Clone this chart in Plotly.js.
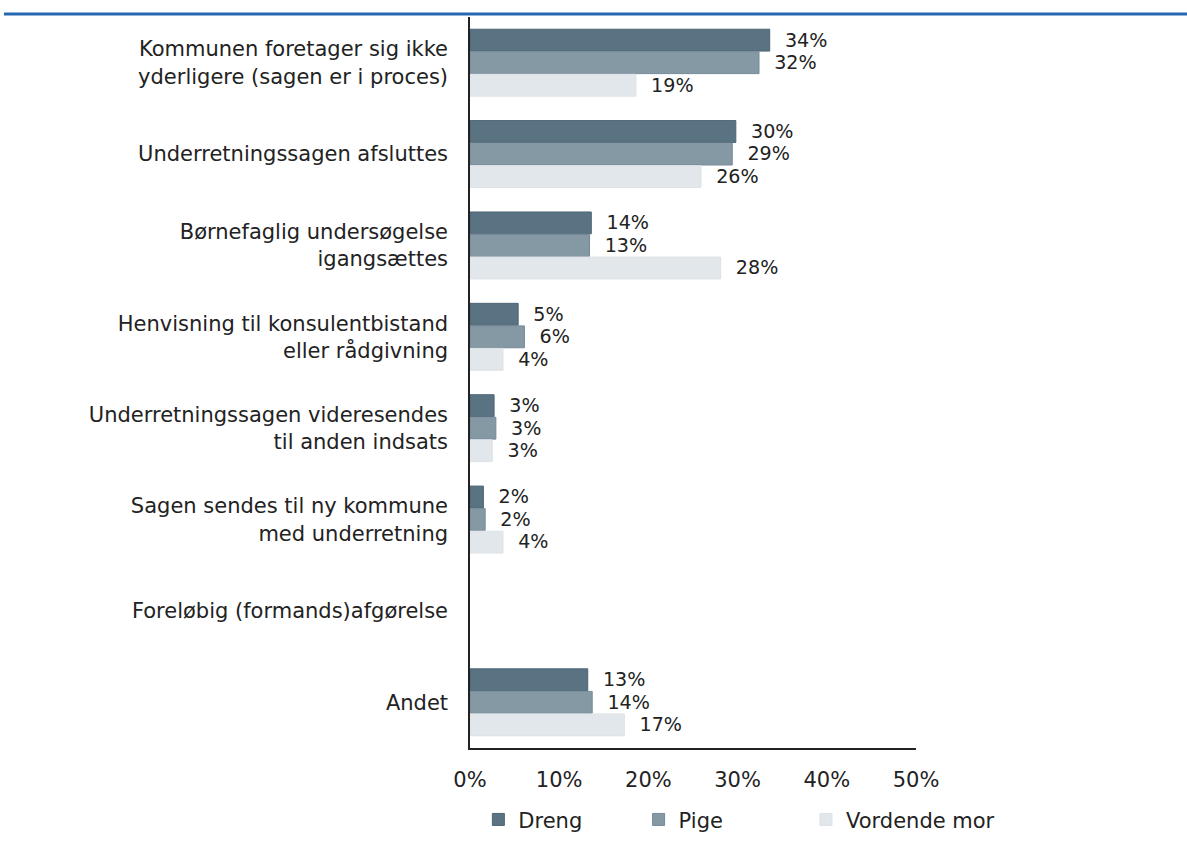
<!DOCTYPE html>
<html>
<head>
<meta charset="utf-8">
<script src="https://cdn.plot.ly/plotly-3.0.1.min.js"></script>
<style>
  html, body { margin: 0; padding: 0; background: #fff; }
  #plot { width: 1187px; height: 846px; }
</style>
</head>
<body>
<div id="plot"></div>
<script>
// Categories, top to bottom
var categories = [
    'Kommunen foretager sig ikke<br>yderligere (sagen er i proces)',
    'Underretningssagen afsluttes',
    'Børnefaglig undersøgelse<br>igangsættes',
    'Henvisning til konsulentbistand<br>eller rådgivning',
    'Underretningssagen videresendes<br>til anden indsats',
    'Sagen sendes til ny kommune<br>med underretning',
    'Foreløbig (formands)afgørelse',
    'Andet'
];

// Share in percent
var dreng   = [33.6, 29.8, 13.6, 5.4, 2.7, 1.5, null, 13.2];
var pige    = [32.4, 29.4, 13.4, 6.1, 2.9, 1.7, null, 13.7];
var vordende = [18.6, 25.9, 28.1, 3.7, 2.5, 3.7, null, 17.3];

var seriesNames = ['Dreng', 'Pige', 'Vordende mor'];
var seriesColors = ['#5a7383', '#8499a4', '#e2e7eb'];
var seriesLines = ['#4d6473', '#75899a', '#dde2e6'];
// one small legend per series so each entry sits where the reference has it
var legendIds = ['legend', 'legend2', 'legend3'];
var legendX = [0.403, 0.538, 0.679];

var font = 'DejaVu Sans, Verdana, sans-serif';
var fontSize = 21;

var allValues = [dreng, pige, vordende];
var traces = allValues.map(function (vals, i) {
    return {
        type: 'bar',
        orientation: 'h',
        name: seriesNames[i],
        legend: legendIds[i],
        y: categories,
        x: vals,
        marker: { color: seriesColors[i], line: { color: seriesLines[i], width: 1 } },
        texttemplate: '\u00a0\u00a0%{x:.0f}%',
        textposition: 'outside',
        cliponaxis: false,
        textfont: { family: font, size: fontSize, color: '#222' },
        hoverinfo: 'x+name'
    };
});

var layout = {
    width: 1187,
    height: 846,
    margin: { l: 470, r: 271, t: 17, b: 98, autoexpand: false },
    paper_bgcolor: '#fff',
    plot_bgcolor: '#fff',
    font: { family: font, size: fontSize, color: '#222' },
    barmode: 'group',
    bargap: 0.26,
    bargroupgap: 0.03,
    showlegend: true,
    xaxis: {
        range: [0, 50],
        dtick: 10,
        ticksuffix: '%',
        showgrid: false,
        zeroline: false,
        showline: true,
        linecolor: '#222',
        linewidth: 1.5,
        ticks: '',
        ticklabelstandoff: 12,
        fixedrange: true
    },
    yaxis: {
        autorange: 'reversed',
        showgrid: false,
        zeroline: false,
        showline: true,
        linecolor: '#222',
        linewidth: 1.5,
        ticks: '',
        ticklabelstandoff: 16,
        fixedrange: true
    },
    shapes: [{
        type: 'line',
        xref: 'paper', yref: 'paper',
        x0: -1.045, x1: 1.61,
        y0: 1.004, y1: 1.004,
        line: { color: '#2469b0', width: 3 }
    }]
};

legendIds.forEach(function (id, i) {
    layout[id] = {
        orientation: 'h',
        xref: 'container',
        x: legendX[i],
        xanchor: 'left',
        yref: 'container',
        y: 0.031,
        yanchor: 'middle',
        itemwidth: 30,
        font: { family: font, size: fontSize, color: '#222' }
    };
});

Plotly.newPlot('plot', traces, layout, { displayModeBar: false });
</script>
</body>
</html>
